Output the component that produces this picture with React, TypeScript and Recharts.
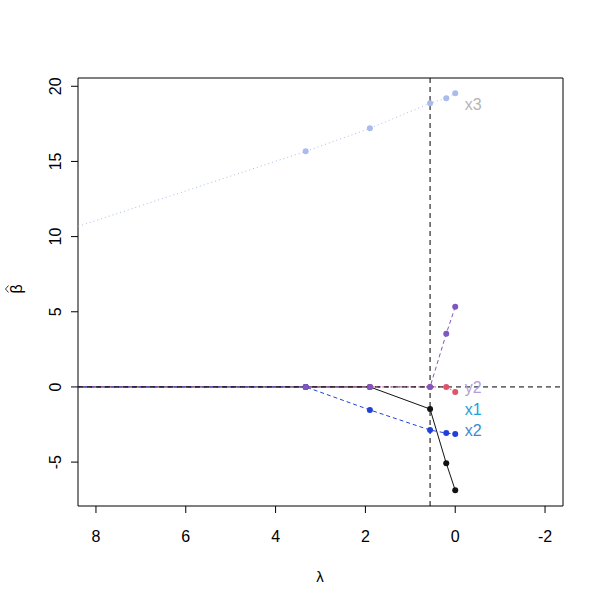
import React from 'react';
import {
  ComposedChart, Line, XAxis, YAxis, ReferenceLine, ReferenceArea, ReferenceDot,
} from 'recharts';

// lambda grid (first value lies beyond the left edge of the plot)
const lambdas = [10, 3.33, 1.9, 0.56, 0.2, 0];

const x1Coef = [0, 0, 0, -1.47, -5.07, -6.87];
const pinkCoef = [0, 0, 0, 0, 0, -0.33];
const x2Coef = [0, 0, -1.53, -2.87, -3.07, -3.13];
const y2Coef = [0, 0, 0, 0, 3.53, 5.33];
const x3Coef = [9.1, 15.67, 17.2, 18.87, 19.2, 19.53];

const xTicks = [8, 6, 4, 2, 0, -2];
const yTicks = [-5, 0, 5, 10, 15, 20];

const labelNames = ['x3', 'y2', 'x1', 'x2'];
const labelY = [18.8, -0.07, -1.53, -2.93];
const labelColors = ['#b5b5b5', '#b49fdc', '#1e9fd6', '#3c8ad0'];

const chosenLambda = 0.56;

const toRows = (vals: number[]) => lambdas.map((lam, i) => ({ lam, v: vals[i] }));

const series = [
  { name: 'x1', data: toRows(x1Coef), color: '#111111', dash: undefined },
  { name: 'p', data: toRows(pinkCoef), color: '#df536b', dash: '2 2' },
  { name: 'x2', data: toRows(x2Coef), color: '#2040d8', dash: '4 3' },
  { name: 'y2', data: toRows(y2Coef), color: '#7e57c2', dash: '4 3' },
  { name: 'x3', data: toRows(x3Coef), color: '#a9bcec', dash: '1 3' },
];

const font = '"Liberation Sans", Arial, sans-serif';

const XTick = (props: any) => (
  <text x={props.x} y={542} textAnchor="middle" fontFamily={font} fontSize={16} fill="#000">
    {props.payload.value}
  </text>
);

const YTick = (props: any) => (
  <text
    x={56}
    y={props.y}
    transform={`rotate(-90 56 ${props.y})`}
    textAnchor="middle"
    dominantBaseline="central"
    fontFamily={font}
    fontSize={16}
    fill="#000"
  >
    {props.payload.value}
  </text>
);

// beta with a hat, rotated like R's ylab
const BetaHat = () => (
  <g transform="rotate(-90 16 289)">
    <text x={16} y={289} textAnchor="middle" dominantBaseline="central" fontFamily={font} fontSize={16} fill="#000">
      β
    </text>
    <path d="M 12.5 281.5 L 16 278.5 L 19.5 281.5" fill="none" stroke="#000" strokeWidth={0.8} />
  </g>
);

export default function App() {
  return (
    <div style={{ position: 'absolute', left: 0, top: 0, width: 604, height: 604, background: '#fff' }}>
      <ComposedChart width={604} height={604} margin={{ top: 78, right: 41, bottom: 18, left: 8 }}>
        <XAxis
          type="number"
          dataKey="lam"
          domain={[-2.4, 8.4]}
          reversed
          allowDataOverflow
          ticks={xTicks}
          tick={<XTick />}
          tickSize={7}
          tickLine={{ stroke: '#000' }}
          axisLine={false}
          height={80}
          label={{
            content: () => (
              <text x={320} y={582} textAnchor="middle" fontFamily={font} fontSize={15} fill="#000">λ</text>
            ),
          }}
        />
        <YAxis
          type="number"
          dataKey="v"
          domain={[-7.92, 20.55]}
          allowDataOverflow
          ticks={yTicks}
          tick={<YTick />}
          tickSize={7}
          tickLine={{ stroke: '#000' }}
          axisLine={false}
          width={70}
          label={{ content: () => <BetaHat /> }}
        />
        <ReferenceArea x1={8.4} x2={-2.4} y1={-7.92} y2={20.55} fill="none" stroke="#000" strokeWidth={1} />
        {series.map((s) => (
          <Line
            key={s.name}
            data={s.data}
            dataKey="v"
            type="linear"
            stroke={s.color}
            strokeWidth={1}
            strokeDasharray={s.dash}
            dot={{ r: 3, fill: s.color, stroke: s.color, strokeWidth: 0 }}
            activeDot={false}
            isAnimationActive={false}
          />
        ))}
        <ReferenceLine y={0} stroke="#000" strokeDasharray="5 4" />
        <ReferenceLine x={chosenLambda} stroke="#000" strokeDasharray="5 4" />
        {labelNames.map((n, i) => (
          <ReferenceDot
            key={n}
            x={-0.4}
            y={labelY[i]}
            r={0}
            fill="none"
            stroke="none"
            label={{
              content: (p: any) => (
                <text
                  x={p.viewBox.x}
                  y={p.viewBox.y}
                  textAnchor="middle"
                  dominantBaseline="central"
                  fontFamily={font}
                  fontSize={16}
                  fill={labelColors[i]}
                >
                  {n}
                </text>
              ),
            }}
          />
        ))}
      </ComposedChart>
    </div>
  );
}
